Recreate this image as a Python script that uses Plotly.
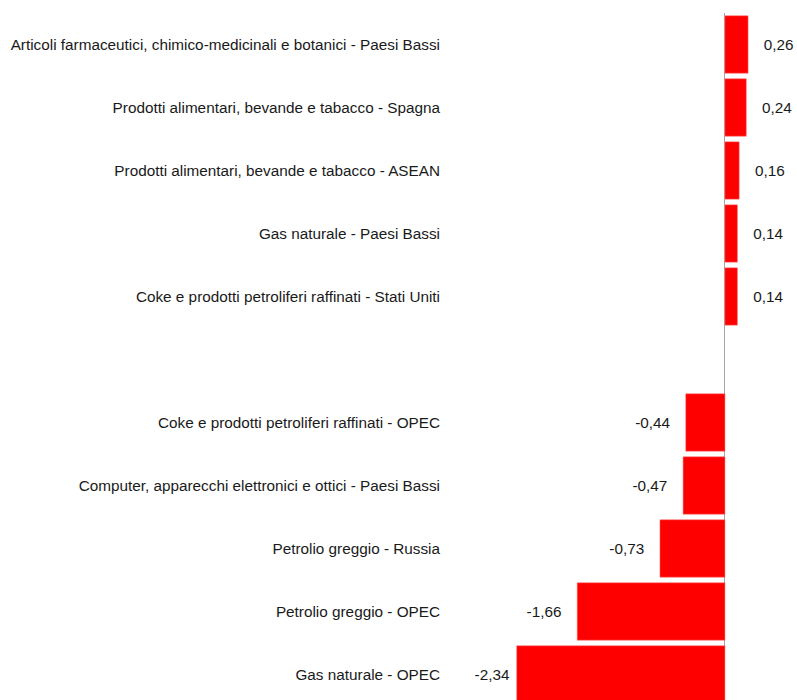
import plotly.graph_objects as go

categories = [
    "Articoli farmaceutici, chimico-medicinali e botanici - Paesi Bassi",
    "Prodotti alimentari, bevande e tabacco - Spagna",
    "Prodotti alimentari, bevande e tabacco - ASEAN",
    "Gas naturale - Paesi Bassi",
    "Coke e prodotti petroliferi raffinati - Stati Uniti",
    " ",
    "Coke e prodotti petroliferi raffinati - OPEC",
    "Computer, apparecchi elettronici e ottici - Paesi Bassi",
    "Petrolio greggio - Russia",
    "Petrolio greggio - OPEC",
    "Gas naturale - OPEC",
]
values = [0.26, 0.24, 0.16, 0.14, 0.14, None, -0.44, -0.47, -0.73, -1.66, -2.34]

NB = "\u00a0"
pad = [3, 3, 3, 3, 3, 0, 3, 3, 3, 3, 1]
templates = []
for v, p in zip(values, pad):
    if v is None:
        templates.append("")
    elif v >= 0:
        templates.append(NB * p + "%{x:.2f}")
    else:
        templates.append("%{x:.2f}" + NB * p)

FONT = "Liberation Sans, Arial, sans-serif"

fig = go.Figure(
    go.Bar(
        y=categories,
        x=values,
        orientation="h",
        marker=dict(color="#ff0000", line=dict(color="#ff6666", width=0.5)),
        texttemplate=templates,
        textposition="outside",
        textfont=dict(family=FONT, size=15.3, color="#1a1a1a"),
        cliponaxis=False,
        hoverinfo="skip",
    )
)

fig.update_layout(
    width=797,
    height=700,
    margin=dict(l=450, r=0, t=13, b=0),
    paper_bgcolor="white",
    plot_bgcolor="white",
    separators=",.",
    bargap=0.09,
    showlegend=False,
    font=dict(family=FONT, size=15.3, color="#1a1a1a"),
)
fig.update_xaxes(
    range=[-3.09, 0.81],
    showgrid=False,
    showticklabels=False,
    zeroline=True,
    zerolinecolor="#a6a6a6",
    zerolinewidth=1,
    fixedrange=True,
)
fig.update_yaxes(
    autorange=False,
    range=[10.405, -0.5],
    showgrid=False,
    automargin=False,
    ticks="",
    ticklabelstandoff=9,
    fixedrange=True,
)

fig.write_html(
    "out.html",
    config={"displayModeBar": False, "staticPlot": True},
    post_script="document.body.style.margin='0';document.body.style.overflow='hidden';",
)
